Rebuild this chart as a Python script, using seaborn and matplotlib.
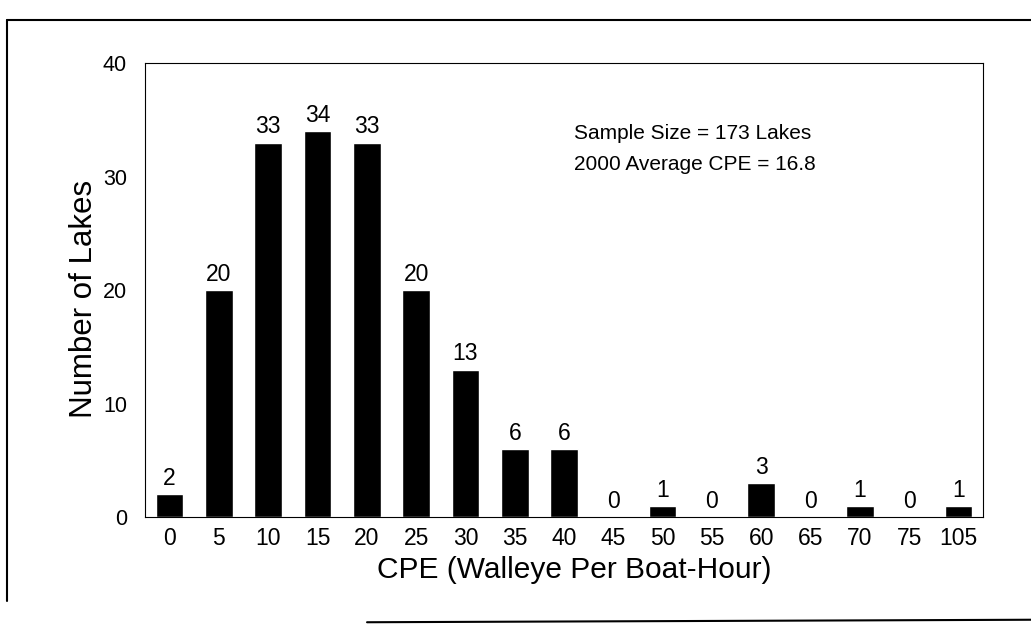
import numpy as np
import pandas as pd
import matplotlib
matplotlib.use('Agg')
import matplotlib.pyplot as plt
import seaborn as sns
from matplotlib.lines import Line2D

# CPE bins and lake counts
cpe_bins = ['0', '5', '10', '15', '20', '25', '30', '35', '40', '45',
            '50', '55', '60', '65', '70', '75', '105']
lake_counts = [2, 20, 33, 34, 33, 20, 13, 6, 6, 0, 1, 0, 3, 0, 1, 0, 1]
note_lines = ['Sample Size = 173 Lakes', '2000 Average CPE = 16.8']

df = pd.DataFrame({'cpe': cpe_bins, 'lakes': lake_counts})

sns.set_style('white')
plt.rcParams['font.family'] = ['Liberation Sans', 'DejaVu Sans']
plt.rcParams['text.color'] = 'black'
plt.rcParams['xtick.color'] = 'black'
plt.rcParams['ytick.color'] = 'black'
plt.rcParams['axes.labelcolor'] = 'black'

fig = plt.figure(figsize=(10.31, 6.26), dpi=100)
ax = fig.add_axes([0.1406, 0.174, 0.813, 0.725])

sns.barplot(data=df, x='cpe', y='lakes', color='black', width=0.56,
            saturation=1, ax=ax)
ax.bar_label(ax.containers[0], labels=[str(v) for v in lake_counts],
             padding=3, fontsize=16.5)

ax.set_xlim(-0.5, len(cpe_bins) - 0.5)
ax.set_ylim(0, 40)
ax.set_yticks([0, 10, 20, 30, 40])
ax.tick_params(axis='x', labelsize=16.5, length=0, pad=7)
ax.tick_params(axis='y', labelsize=15.5, length=0, pad=13)
ax.set_xlabel('CPE (Walleye Per Boat-Hour)', fontsize=21.5)
ax.set_ylabel('Number of Lakes', fontsize=22.5)
ax.xaxis.set_label_coords(0.512, -0.085)
ax.yaxis.set_label_coords(-0.055, 0.48)
for side in ['left', 'right', 'top', 'bottom']:
    ax.spines[side].set_color('black')
    ax.spines[side].set_linewidth(0.8)

ax.text(0.512, 0.845, note_lines[0], transform=ax.transAxes, fontsize=15,
        va='center')
ax.text(0.512, 0.776, note_lines[1], transform=ax.transAxes, fontsize=15,
        va='center')

# outer frame of the scanned page
fig.add_artist(Line2D([0.007, 1.0], [0.968, 0.968], color='black', lw=1.5,
                      transform=fig.transFigure))
fig.add_artist(Line2D([0.007, 0.007], [0.968, 0.04], color='black', lw=1.5,
                      transform=fig.transFigure))
fig.add_artist(Line2D([0.356, 1.0], [0.006, 0.01], color='black', lw=1.5,
                      transform=fig.transFigure))

fig.savefig('out.png', dpi=100, facecolor='white')
